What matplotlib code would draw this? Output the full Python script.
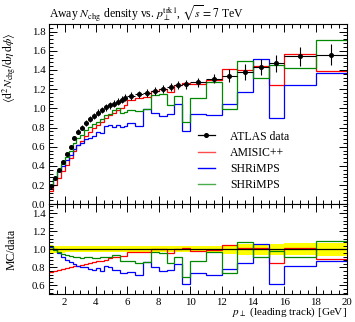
import numpy as np
import matplotlib
matplotlib.use("Agg")
import matplotlib.pyplot as plt
from matplotlib.ticker import MultipleLocator
from matplotlib.lines import Line2D

plt.rcParams['font.family'] = ['Liberation Serif', 'DejaVu Serif']
plt.rcParams['mathtext.fontset'] = 'stix'

# bin edges of the leading-track pT histogram [GeV]
edges = [1.0, 1.25, 1.5, 1.75, 2.0, 2.25, 2.5, 2.75, 3.0, 3.25, 3.5, 3.75, 4.0,
         4.25, 4.5, 4.75, 5.0, 5.25, 5.5, 5.75, 6.0, 6.5, 7.0, 7.5, 8.0, 8.5,
         9.0, 9.5, 10.0, 11.0, 12.0, 13.0, 14.0, 15.0, 16.0, 18.0, 20.0]

# ATLAS data
data = [0.19, 0.27, 0.36, 0.44, 0.52, 0.60, 0.69, 0.755, 0.80, 0.85, 0.89, 0.92,
        0.955, 0.98, 1.01, 1.03, 1.05, 1.07, 1.09, 1.11, 1.13, 1.145, 1.16, 1.18,
        1.20, 1.22, 1.24, 1.25, 1.27, 1.31, 1.34, 1.38, 1.43, 1.47, 1.54, 1.56]
data_err = [0.009, 0.011, 0.013, 0.016, 0.018, 0.021, 0.024, 0.026, 0.028, 0.030,
            0.031, 0.032, 0.033, 0.034, 0.035, 0.036, 0.037, 0.037, 0.038, 0.039,
            0.040, 0.040, 0.041, 0.041, 0.042, 0.043, 0.043, 0.044, 0.045, 0.050,
            0.065, 0.080, 0.085, 0.090, 0.100, 0.110]

# MC / data ratios
ratio_amisic = [0.75, 0.76, 0.77, 0.78, 0.79, 0.80, 0.81, 0.82, 0.83, 0.84, 0.85,
                0.86, 0.87, 0.875, 0.885, 0.90, 0.91, 0.92, 0.925, 0.93, 0.965,
                0.965, 0.967, 1.0, 1.0, 0.955, 1.0, 1.01, 0.985, 0.99, 1.05, 1.01,
                1.01, 0.845, 1.02, 0.89]
ratio_shrimps_blue = [1.03, 1.00, 0.96, 0.91, 0.88, 0.86, 0.84, 0.82, 0.80, 0.80,
                      0.78, 0.77, 0.79, 0.76, 0.81, 0.80, 0.77, 0.77, 0.735, 0.735,
                      0.75, 0.715, 0.856, 0.807, 0.763, 0.77, 0.84, 0.615, 0.74,
                      0.71, 0.78, 0.85, 1.055, 0.615, 0.81, 0.875]
ratio_shrimps_green = [1.04, 0.99, 0.97, 0.95, 0.94, 0.93, 0.92, 0.91, 0.90, 0.91,
                       0.91, 0.905, 0.90, 0.91, 0.92, 0.915, 0.94, 0.94, 0.87, 0.87,
                       0.87, 0.845, 0.86, 0.965, 0.955, 0.845, 0.91, 0.69, 0.87,
                       0.975, 0.74, 1.085, 0.92, 0.985, 0.92, 1.096]

edges = np.array(edges)
data = np.array(data)
data_err = np.array(data_err)
centers = 0.5 * (edges[1:] + edges[:-1])
halfw = 0.5 * (edges[1:] - edges[:-1])

mc = [("AMISIC++", "#ff0000", np.array(ratio_amisic)),
      ("SHRiMPS", "#0000ff", np.array(ratio_shrimps_blue)),
      ("SHRiMPS", "#008800", np.array(ratio_shrimps_green))]

W, H = 355, 322
fig = plt.figure(figsize=(W / 100, H / 100), dpi=100)
ax = fig.add_axes([49 / W, 1 - 204.3 / H, 298 / W, 180 / H])
rax = fig.add_axes([49 / W, 1 - 294.3 / H, 298 / W, 90 / H], sharex=ax)

# main panel
for label, col, r in mc:
    ax.stairs(r * data, edges, baseline=None, color=col, lw=0.9)
ax.errorbar(centers, data, yerr=data_err, xerr=halfw, fmt='o', color='black',
            ms=2.6, elinewidth=0.8, capsize=0, zorder=5)

ax.set_xlim(1, 20)
ax.set_ylim(0, 1.875)
ax.set_title(r"Away $N_\mathrm{chg}$ density vs. $p_\perp^\mathrm{trk1}$, $\sqrt{s} = 7$ TeV",
             loc='left', fontsize=8.5, pad=5)
ax.set_ylabel(r"$\langle \mathrm{d}^2 N_\mathrm{chg} / \mathrm{d}\eta\,\mathrm{d}\phi \rangle$",
              fontsize=8.5)
ax.yaxis.set_label_coords(-0.105, 0.76)
ax.yaxis.set_major_locator(MultipleLocator(0.2))
ax.yaxis.set_minor_locator(MultipleLocator(0.04))
ax.tick_params(labelbottom=False)

handles = [Line2D([], [], color='black', marker='o', ms=2.6, lw=0.9)]
handles += [Line2D([], [], color=col, lw=1.0, alpha=0.7 if i != 1 else 1.0)
            for i, (label, col, r) in enumerate(mc)]
labels = ["ATLAS data"] + [m[0] for m in mc]
ax.legend(handles, labels, loc='upper left', bbox_to_anchor=(0.5, 0.41),
          frameon=False, fontsize=8.5, handlelength=1.4, handletextpad=1.3,
          labelspacing=0.35, borderpad=0, borderaxespad=0)

# ratio panel
rel = data_err / data
rax.stairs(1 + rel, edges, baseline=1 - rel, fill=True, color='#ffff00', lw=0)
rax.axhline(1, color='black', lw=0.9)
for label, col, r in mc:
    rax.stairs(r, edges, baseline=None, color=col, lw=0.9)
rax.set_ylim(0.5, 1.5)
rax.set_ylabel("MC/data", fontsize=8.5)
rax.yaxis.set_label_coords(-0.105, 0.5)
rax.yaxis.set_major_locator(MultipleLocator(0.2))
rax.yaxis.set_minor_locator(MultipleLocator(0.04))
rax.set_xlabel(r"$p_\perp$ (leading track) [GeV]", fontsize=8, loc='right', labelpad=-1)

for a in (ax, rax):
    a.xaxis.set_major_locator(MultipleLocator(2))
    a.xaxis.set_minor_locator(MultipleLocator(0.5))
    a.tick_params(which='both', direction='in', top=True, right=True, labelsize=7.8,
                  width=0.7, pad=2.5)
    a.tick_params(which='major', length=6)
    a.tick_params(which='minor', length=3)
    for s in a.spines.values():
        s.set_linewidth(0.8)

fig.savefig("out.png", dpi=100)
